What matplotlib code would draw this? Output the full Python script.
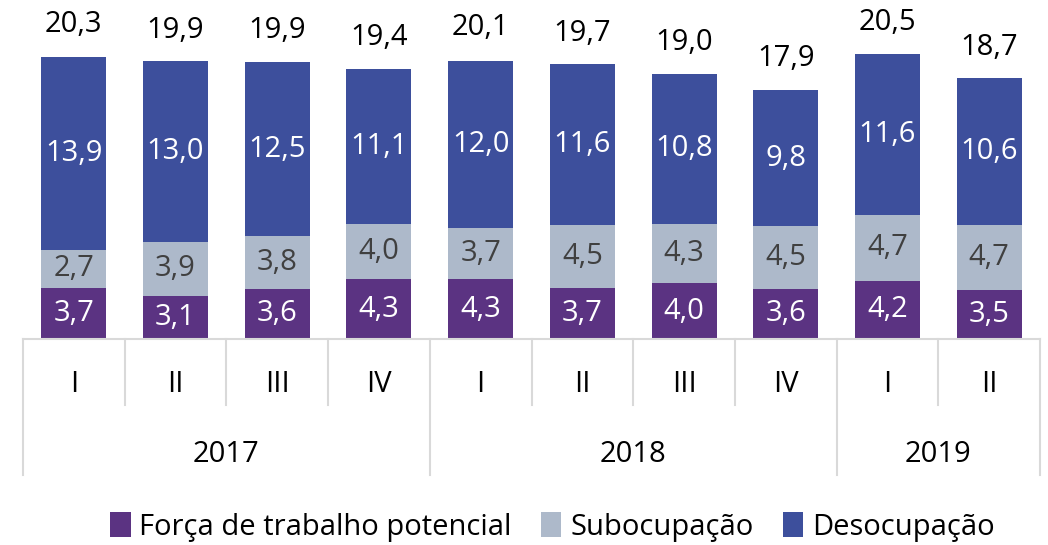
import matplotlib.pyplot as plt
import numpy as np

plt.rcParams['font.family'] = ['Open Sans', 'DejaVu Sans']

quarters = ['I', 'II', 'III', 'IV', 'I', 'II', 'III', 'IV', 'I', 'II']
years = ['2017', '2018', '2019']
year_spans = [4, 4, 2]
forca = [3.7, 3.1, 3.6, 4.3, 4.3, 3.7, 4.0, 3.6, 4.2, 3.5]
subocup = [2.7, 3.9, 3.8, 4.0, 3.7, 4.5, 4.3, 4.5, 4.7, 4.7]
desocup = [13.9, 13.0, 12.5, 11.1, 12.0, 11.6, 10.8, 9.8, 11.6, 10.6]
totals = [20.3, 19.9, 19.9, 19.4, 20.1, 19.7, 19.0, 17.9, 20.5, 18.7]

c_forca = '#5B3382'
c_sub = '#ADB9CA'
c_des = '#3D4F9C'
grid_c = '#D9D9D9'

fig = plt.figure(figsize=(10.48, 5.45), dpi=100)
ax = fig.add_axes([23 / 1048, 1 - 339 / 545, (1040 - 23) / 1048, 339 / 545])

x = np.arange(len(quarters))
w = 0.64
f = np.array(forca)
s = np.array(subocup)
d = np.array(desocup)
ax.bar(x, f, w, color=c_forca, label='Força de trabalho potencial')
ax.bar(x, s, w, bottom=f, color=c_sub, label='Subocupação')
ax.bar(x, d, w, bottom=f + s, color=c_des, label='Desocupação')

fmt = lambda v: f'{v:.1f}'.replace('.', ',')
fs = 21
for i in range(len(x)):
    ax.text(x[i], f[i] / 2, fmt(f[i]), ha='center', va='center', color='white', fontsize=fs)
    ax.text(x[i], f[i] + s[i] / 2, fmt(s[i]), ha='center', va='center', color='#404040', fontsize=fs)
    ax.text(x[i], f[i] + s[i] + d[i] / 2, fmt(d[i]), ha='center', va='center', color='white', fontsize=fs)
    ax.text(x[i], totals[i] + 2.3, fmt(totals[i]), ha='center', va='center', color='black', fontsize=fs)

ax.set_xlim(-0.5, len(x) - 0.5)
ax.set_ylim(0, 339 / 13.9)
ax.axis('off')

# category table below the bars
tr = ax.get_xaxis_transform()
ax.plot([-0.5, len(x) - 0.5], [0, 0], color=grid_c, lw=1.5, transform=tr, clip_on=False)
q_bot = -(405 - 339) / 339
y_bot = -(475 - 339) / 339
year_edges = np.cumsum([0] + year_spans) - 0.5
for k in range(len(x) + 1):
    xe = k - 0.5
    bot = y_bot if xe in year_edges else q_bot
    ax.plot([xe, xe], [0, bot], color=grid_c, lw=1.5, transform=tr, clip_on=False)
for i, q in enumerate(quarters):
    ax.text(i, -(385 - 339) / 339, q, ha='center', va='center', fontsize=fs, transform=tr)
for j, yr in enumerate(years):
    xc = (year_edges[j] + year_edges[j + 1]) / 2
    ax.text(xc, -(455 - 339) / 339, yr, ha='center', va='center', fontsize=fs, transform=tr)

fig.legend(loc='center', bbox_to_anchor=(0.527, 1 - 527 / 545), ncol=3, frameon=False,
           fontsize=21, handlelength=0.7, handleheight=0.9, handletextpad=0.3, columnspacing=1.0)

plt.savefig('out.png', dpi=100)
